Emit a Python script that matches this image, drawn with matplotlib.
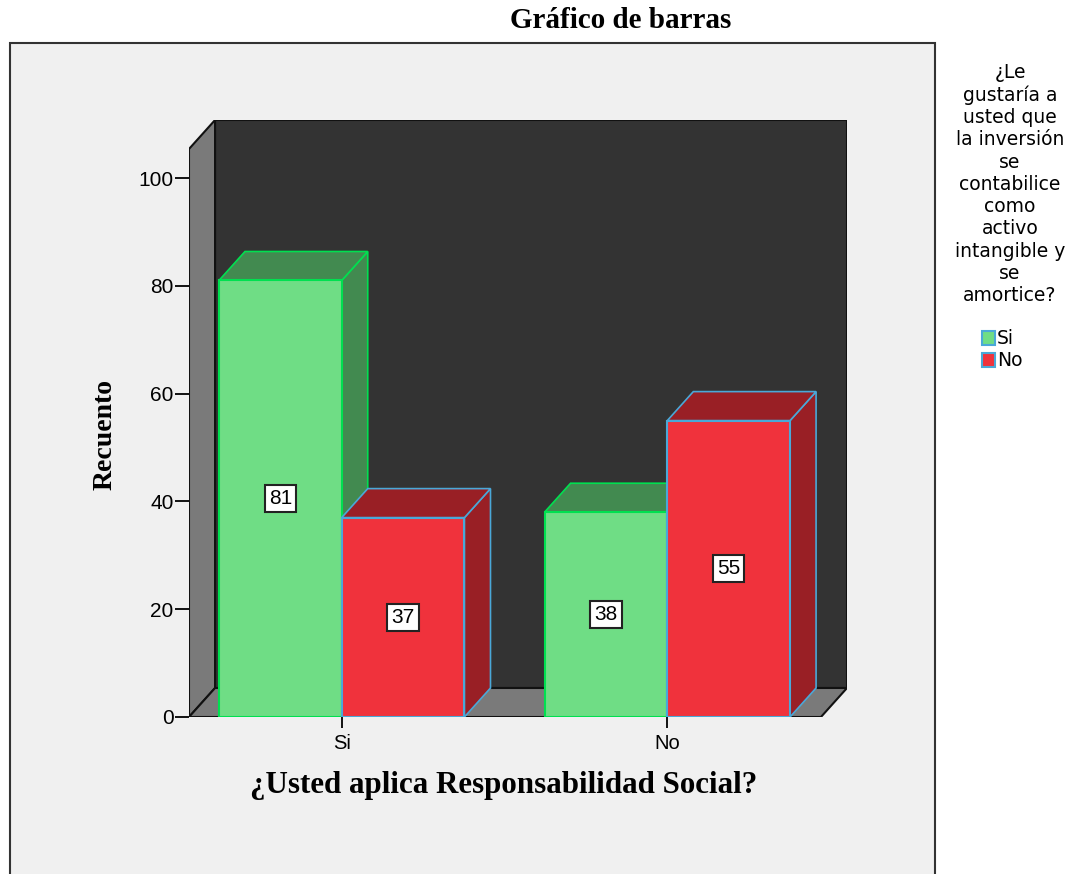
import matplotlib.pyplot as plt
from matplotlib.patches import Polygon, Rectangle

# data
categories = ['Si', 'No']
series_names = ['Si', 'No']
green_vals = [81, 38]   # answer "Si"
red_vals = [37, 55]     # answer "No"
yticks = [0, 20, 40, 60, 80, 100]

title = 'Gráfico de barras'
xlabel = '¿Usted aplica Responsabilidad Social?'
ylabel = 'Recuento'
legend_title = ('¿Le\ngustaría a\nusted que\nla inversión\nse\ncontabilice\n'
                'como\nactivo\nintangible y\nse\namortice?')

# 3d look
w = 0.377
dx, dy = 0.08, 5.38
x_front0, x_front1 = -0.469, 1.472
y_front_top = 105.4

green_face, green_dark, green_edge = '#6fdd85', '#428a50', '#00e050'
red_face, red_dark, red_edge = '#f0323c', '#991f25', '#4aa8d8'

fig = plt.figure(figsize=(10.84, 8.74), dpi=100)
fig.patch.set_facecolor('white')

# outer frame
fig.patches.append(Rectangle((10 / 1084, -0.01), 925 / 1084, 1 - 43 / 874 + 0.01,
                             transform=fig.transFigure, fc='#f0f0f0', ec='#333333',
                             lw=1.5, zorder=-5))

ax = fig.add_axes([189 / 1084, 157 / 874, 658 / 1084, 597 / 874], zorder=2)
ax.patch.set_alpha(0)
ax.set_xlim(x_front0, x_front1 + dx)
ax.set_ylim(0, y_front_top + dy)
for s in ax.spines.values():
    s.set_visible(False)


def poly(pts, fc, ec, lw=1.2, z=1):
    ax.add_patch(Polygon(pts, closed=True, fc=fc, ec=ec, lw=lw, zorder=z, joinstyle='miter'))


# walls
poly([(x_front0 + dx, dy), (x_front1 + dx, dy), (x_front1 + dx, y_front_top + dy),
      (x_front0 + dx, y_front_top + dy)], '#333333', '#111111', 1.5)
poly([(x_front0, 0), (x_front0, y_front_top), (x_front0 + dx, y_front_top + dy),
      (x_front0 + dx, dy)], '#7a7a7a', '#111111', 1.5)
poly([(x_front0, 0), (x_front1, 0), (x_front1 + dx, dy), (x_front0 + dx, dy)],
     '#7a7a7a', '#111111', 1.5)


def bar3d(x0, h, face, dark, edge):
    x1 = x0 + w
    poly([(x1, 0), (x1 + dx, dy), (x1 + dx, h + dy), (x1, h)], dark, edge, 1.2, 2)
    poly([(x0, h), (x1, h), (x1 + dx, h + dy), (x0 + dx, h + dy)], dark, edge, 1.2, 2)
    poly([(x0, 0), (x1, 0), (x1, h), (x0, h)], face, edge, 1.5, 2)
    ax.text(x0 + w / 2, h / 2, str(h), ha='center', va='center', fontsize=15,
            family='Liberation Sans', zorder=5,
            bbox=dict(boxstyle='square,pad=0.2', fc='white', ec='#222222', lw=1.5))


for i, c in enumerate(categories):
    bar3d(i - w, green_vals[i], green_face, green_dark, green_edge)
    bar3d(i, red_vals[i], red_face, red_dark, red_edge)

ax.set_xticks(range(len(categories)))
ax.set_xticklabels(categories, family='Liberation Sans', fontsize=14.5)
ax.set_yticks(yticks)
ax.set_yticklabels([str(t) for t in yticks], family='Liberation Sans', fontsize=15)
ax.tick_params(axis='y', length=10, width=1.3, pad=1, colors='black')
ax.tick_params(axis='x', length=8, width=1.3, pad=4, colors='black')

fig.text(621 / 1084, 1 - 20 / 874, title, ha='center', va='center',
         family='Liberation Serif', weight='bold', fontsize=21)
fig.text(504 / 1084, 1 - 785 / 874, xlabel, ha='center', va='center',
         family='Liberation Serif', weight='bold', fontsize=22.3)
fig.text(105 / 1084, 1 - 434 / 874, ylabel, ha='center', va='center', rotation=90,
         family='Liberation Serif', weight='bold', fontsize=20)

# legend
fig.text(1010 / 1084, 1 - 184 / 874, legend_title, ha='center', va='center',
         family='DejaVu Sans', fontsize=13.5, linespacing=1.22)
for j, (name, fc) in enumerate(zip(series_names, [green_face, red_face])):
    yc = 338 + j * 22
    fig.patches.append(Rectangle((982 / 1084, 1 - (yc + 7) / 874), 13 / 1084, 14 / 874,
                                 transform=fig.transFigure, fc=fc, ec=red_edge, lw=1.5))
    fig.text(997 / 1084, 1 - yc / 874, name, ha='left', va='center',
             family='DejaVu Sans', fontsize=13.5)

fig.savefig('out.png', dpi=100)
